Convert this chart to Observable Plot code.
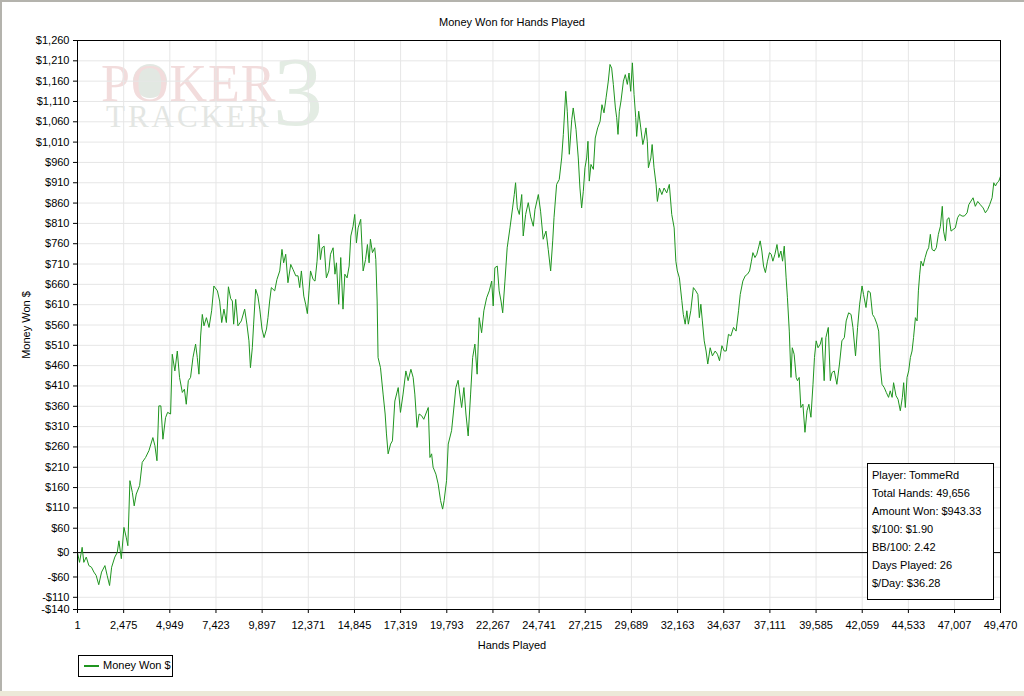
<!DOCTYPE html>
<html><head><meta charset="utf-8">
<script src="https://cdn.jsdelivr.net/npm/d3@7"></script>
<script src="https://cdn.jsdelivr.net/npm/@observablehq/plot@0.6"></script>
<style>
body{margin:0;background:#fff;font-family:"Liberation Sans",Arial,sans-serif;font-size:11px;color:#000}
#wrap{position:relative;width:1024px;height:696px;overflow:hidden;background:#fff}
#chart{position:absolute;left:0;top:0}
.abs{position:absolute;white-space:nowrap}
#title{top:16px;left:0;width:1024px;text-align:center;line-height:13px}
#ylab{left:26px;top:325px;transform:translate(-50%,-50%) rotate(-90deg);line-height:13px}
#xlab{top:639px;left:0;width:1024px;text-align:center;line-height:13px}
#legend{left:78px;top:655px;width:93px;height:20px;border:1px solid #000;background:#fff}
#legend .sw{position:absolute;left:5px;top:9px;width:15px;height:2px;background:#1f951f}
#legend .lt{position:absolute;left:24px;top:3px;line-height:13px}
#stats{left:867px;top:463px;width:121px;height:133px;border:1px solid #000;background:#fff;padding:2px 0 0 4px;box-sizing:content-box}
#stats div{line-height:18px;height:18px}
.frameTop{left:0;top:0;width:1024px;height:2px;background:#b4b3ad}
.frameLeft{left:0;top:0;width:2px;height:696px;background:#b4b3ad}
.frameBot{left:0;top:691px;width:1024px;height:5px;background:#ece9d8}
#chip{left:133px;top:64px;width:34px;height:34px;border-radius:50%;background:#e2e8e2}
#wmtext{left:106px;top:67px;white-space:pre;font-family:"Liberation Serif","DejaVu Serif",serif;font-size:31px;line-height:33px;letter-spacing:3px;color:#e3e6e3;text-indent:-5px}
#wmtext::first-line{font-size:52px;letter-spacing:1px;color:#f2dcdc}
#wm3{left:273px;top:57px;font-family:"Liberation Serif","DejaVu Serif",serif;font-size:100px;line-height:70px;height:70px;color:#e3ece3}
</style></head><body>
<div id="wrap">
  <div class="abs" id="chip"></div>
  <div class="abs" id="wmtext"></div>
  <div class="abs" id="wm3"></div>
  <div id="chart"></div>
  <div class="abs" id="title">Money Won for Hands Played</div>
  <div class="abs" id="ylab">Money Won $</div>
  <div class="abs" id="xlab">Hands Played</div>
  <div class="abs" id="legend"><div class="sw"></div><div class="lt">Money Won $</div></div>
  <div class="abs" id="stats"></div>
  <div class="abs frameTop"></div><div class="abs frameLeft"></div><div class="abs frameBot"></div>
</div>
<script>
const xTicks = [1, 2475, 4949, 7423, 9897, 12371, 14845, 17319, 19793, 22267, 24741, 27215, 29689, 32163, 34637, 37111, 39585, 42059, 44533, 47007, 49470];
const yTicks = [1260,1210,1160,1110,1060,1010,960,910,860,810,760,710,660,610,560,510,460,410,360,310,260,210,160,110,60,0,-60,-110,-140];
const statsLines = ["Player: TommeRd","Total Hands: 49,656","Amount Won: $943.33","$/100: $1.90","BB/100: 2.42","Days Played: 26","$/Day: $36.28"];
const seriesName = "Money Won $";
const watermarkText = "POKER\nTRACKER";
const watermarkDigit = "3";

const hands = [1,110,250,340,470,610,750,880,1000,1140,1290,1470,1590,1720,1830,2000,2130,2220,2350,2490,2610,2700,2810,2940,3040,3150,3330,3470,3650,3830,4040,4150,4260,4360,4470,4580,4720,4830,4990,5080,5220,5350,5470,5620,5730,5830,5940,6060,6190,6330,6420,6510,6600,6690,6780,6910,7050,7190,7310,7500,7620,7730,7850,7980,8090,8210,8300,8370,8480,8600,8780,8960,9080,9190,9270,9370,9440,9550,9670,9770,9890,10000,10130,10210,10300,10390,10570,10690,10840,10960,11050,11160,11280,11430,11550,11700,11820,11910,12000,12130,12230,12320,12410,12490,12630,12730,12840,12930,13020,13110,13220,13340,13470,13560,13700,13800,13880,14000,14110,14230,14330,14450,14560,14650,14770,14860,14950,15040,15180,15310,15440,15540,15630,15700,15810,15930,15990,16060,16110,16240,16380,16490,16560,16650,16780,16880,17010,17190,17310,17450,17600,17720,17870,17990,18080,18200,18310,18440,18560,18800,18890,18980,19060,19210,19330,19460,19570,19650,19780,19870,20050,20140,20280,20400,20490,20590,20710,20820,20940,21070,21180,21300,21420,21530,21660,21780,21930,22070,22200,22280,22370,22500,22600,22700,22790,22910,23030,23180,23320,23410,23480,23570,23680,23810,23890,24020,24160,24290,24430,24520,24700,24820,24960,25110,25230,25360,25470,25540,25680,25820,25950,26040,26170,26250,26360,26490,26570,26720,26840,26930,27020,27110,27200,27290,27360,27430,27520,27650,27750,27880,28010,28110,28220,28330,28450,28540,28630,28720,28830,28900,28970,29040,29130,29260,29360,29470,29560,29650,29740,29830,29920,29970,30080,30190,30300,30380,30470,30540,30600,30730,30800,30900,31010,31080,31190,31320,31440,31580,31720,31850,31980,32070,32150,32260,32390,32470,32570,32660,32740,32870,33010,33140,33250,33330,33410,33490,33590,33690,33780,33910,34030,34180,34300,34410,34540,34660,34770,34890,35020,35160,35300,35430,35520,35660,35790,35910,36020,36120,36200,36310,36410,36520,36590,36680,36770,36870,36980,37090,37180,37270,37380,37490,37590,37700,37790,37880,37980,38050,38150,38240,38310,38410,38520,38590,38680,38770,38880,38990,39100,39200,39310,39420,39500,39590,39690,39810,39900,40020,40110,40240,40350,40440,40560,40700,40840,40970,41100,41200,41330,41460,41560,41700,41810,41920,42050,42130,42260,42370,42490,42610,42720,42850,42940,43030,43120,43240,43350,43470,43560,43660,43740,43870,43980,44100,44210,44280,44370,44460,44550,44640,44730,44810,44910,45000,45070,45140,45210,45320,45430,45530,45620,45710,45800,45920,46030,46140,46250,46350,46420,46520,46610,46710,46820,46930,47050,47170,47280,47410,47530,47680,47770,47890,48000,48120,48250,48390,48540,48660,48780,48890,49020,49110,49200,49290,49380,49470];
const won = [0,-24,13,-24,-11,-32,-36,-48,-56,-79,-48,-32,-56,-81,-36,-11,0,29,-15,62,38,17,177,148,115,144,165,222,234,251,283,263,226,361,361,279,332,345,341,488,447,496,431,394,402,365,423,431,480,513,480,439,533,586,558,578,554,595,656,644,619,566,599,566,654,625,619,562,623,558,570,599,562,521,455,504,562,648,631,599,550,529,550,578,619,652,644,672,693,746,713,734,664,709,697,681,681,652,693,631,611,588,644,693,672,668,717,783,721,750,754,676,693,734,750,685,713,611,726,599,685,676,705,779,803,832,762,799,820,693,721,758,713,771,738,750,721,619,480,455,390,341,292,243,267,275,373,406,345,390,447,423,451,431,390,308,341,337,328,357,234,243,210,193,169,128,107,128,177,267,300,341,406,424,390,357,406,341,287,390,480,513,439,578,541,595,627,644,668,607,701,705,644,619,590,668,750,799,848,881,910,848,832,881,779,832,861,826,803,844,881,840,771,791,746,693,767,824,906,918,971,1029,1135,1086,980,1065,1094,1041,971,897,848,889,947,971,1012,914,955,943,1020,1045,1061,1102,1082,1119,1160,1201,1192,1152,1094,1070,1029,1086,1111,1160,1176,1152,1180,1135,1205,1127,1070,1024,1086,1045,1004,1020,1045,1012,947,971,1004,947,906,864,897,881,897,885,906,832,799,717,693,676,620,586,562,595,562,595,652,644,635,578,611,570,521,496,464,504,484,496,488,472,509,496,496,537,533,554,545,595,635,668,681,685,693,717,738,726,734,754,767,742,705,689,717,738,734,717,734,758,726,742,717,754,676,627,545,431,504,488,431,423,431,357,365,296,349,365,333,414,480,521,504,513,529,423,529,554,423,443,447,414,464,521,529,570,590,586,554,484,554,611,656,635,603,644,640,586,578,562,545,455,414,406,394,382,398,382,418,386,377,349,382,418,357,431,447,480,496,529,578,570,644,685,717,705,726,742,750,783,746,742,750,783,803,852,791,767,820,824,791,795,799,824,832,828,828,836,856,865,873,852,864,856,848,836,844,856,873,910,902,910,914,926];

const data = hands.map((h, i) => ({hands: h, won: won[i]}));
const money = d => (d < 0 ? "-" : "") + "$" + d3.format(",")(Math.abs(d));

const chart = Plot.plot({
  width: 1024,
  height: 650,
  marginLeft: 77,
  marginRight: 24,
  marginTop: 40,
  marginBottom: 41,
  style: {fontFamily: '"Liberation Sans", Arial, sans-serif', fontSize: "11px", color: "#000", background: "transparent", overflow: "visible"},
  x: {domain: [1, 49470]},
  y: {domain: [-140, 1260]},
  marks: [
    Plot.gridX(xTicks, {stroke: "#e6e6e6", strokeOpacity: 1}),
    Plot.gridY(yTicks, {stroke: "#e6e6e6", strokeOpacity: 1}),
    Plot.ruleY([0], {stroke: "#000", strokeWidth: 1}),
    Plot.line(data, {x: "hands", y: "won", stroke: "#1f951f", strokeWidth: 1}),
    Plot.axisX(xTicks, {tickFormat: d3.format(","), tickSize: 4, tickPadding: 8, label: null, stroke: "#000"}),
    Plot.axisY(yTicks, {tickFormat: money, tickSize: 4, tickPadding: 4, label: null, stroke: "#000"}),
    Plot.frame({stroke: "#000"})
  ]
});
document.getElementById("chart").appendChild(chart);

document.querySelector("#legend .lt").textContent = seriesName;
const st = document.getElementById("stats");
statsLines.forEach(t => { const d = document.createElement("div"); d.textContent = t; st.appendChild(d); });
document.getElementById("wmtext").textContent = watermarkText;
document.getElementById("wm3").textContent = watermarkDigit;
</script>
</body></html>
